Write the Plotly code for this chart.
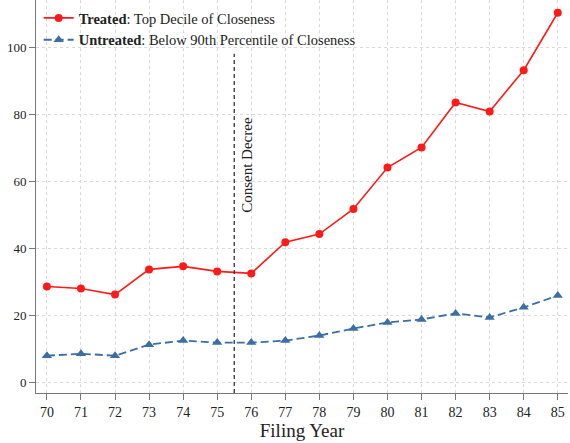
import plotly.graph_objects as go

years = list(range(70, 86))
year_labels = [str(y) for y in years]
treated = [28.7, 28.1, 26.3, 33.8, 34.7, 33.2, 32.6, 41.9, 44.3, 51.8, 64.1, 70.1, 83.5, 80.8, 93.1, 110.2]
untreated = [8.1, 8.7, 8.1, 11.4, 12.6, 12.0, 12.0, 12.6, 14.1, 16.2, 18.0, 18.9, 20.7, 19.5, 22.5, 26.0]
y_ticks = [0, 20, 40, 60, 80, 100]
decree_year = 75.5

FONT = "Liberation Serif, DejaVu Serif, serif"
RED = "#ff1a1a"
BLUE = "#3a6ea5"

fig = go.Figure()
fig.add_trace(go.Scatter(
    x=years, y=treated, mode="lines+markers",
    name="<b>Treated</b>: Top Decile of Closeness",
    line=dict(color=RED, width=1.6),
    marker=dict(color=RED, size=8, symbol="circle"),
))
fig.add_trace(go.Scatter(
    x=years, y=untreated, mode="lines+markers",
    name="<b>Untreated</b>: Below 90th Percentile of Closeness",
    line=dict(color=BLUE, width=1.8, dash="8px,4px"),
    marker=dict(color=BLUE, size=9, symbol="triangle-up"),
))

fig.add_shape(type="line", x0=decree_year, x1=decree_year, y0=-3, y1=98,
              xref="x", yref="y", line=dict(color="#222222", width=1.2, dash="4px,3px"))
fig.add_annotation(x=decree_year, y=65, xref="x", yref="y", text="Consent Decree",
                   textangle=-90, showarrow=False, xanchor="left", xshift=2,
                   font=dict(family=FONT, size=15, color="#222222"))

grid = dict(showgrid=True, gridcolor="#d9d9d9", griddash="dot", gridwidth=1)
fig.update_xaxes(range=[69.68, 85.3], tickvals=years, ticktext=year_labels,
                 ticks="outside", ticklen=6, tickcolor="#777777",
                 showline=True, linecolor="#777777", linewidth=1, zeroline=False,
                 tickfont=dict(family=FONT, size=14, color="#222222"),
                 title=dict(text="Filing Year", font=dict(family=FONT, size=19, color="#222222"), standoff=4),
                 **grid)
fig.update_yaxes(range=[-3, 114], tickvals=y_ticks,
                 ticks="outside", ticklen=6, tickcolor="#777777",
                 showline=True, linecolor="#777777", linewidth=1, zeroline=False,
                 tickfont=dict(family=FONT, size=13, color="#222222"),
                 **grid)

fig.update_layout(
    width=570, height=443,
    margin=dict(l=36, r=2, t=0, b=50),
    plot_bgcolor="white", paper_bgcolor="white",
    font=dict(family=FONT, color="#222222"),
    legend=dict(x=0.005, y=0.995, xanchor="left", yanchor="top",
                bgcolor="rgba(255,255,255,0)", font=dict(family=FONT, size=14.5),
                tracegroupgap=2, itemwidth=30),
)

fig.write_html("out.html")
